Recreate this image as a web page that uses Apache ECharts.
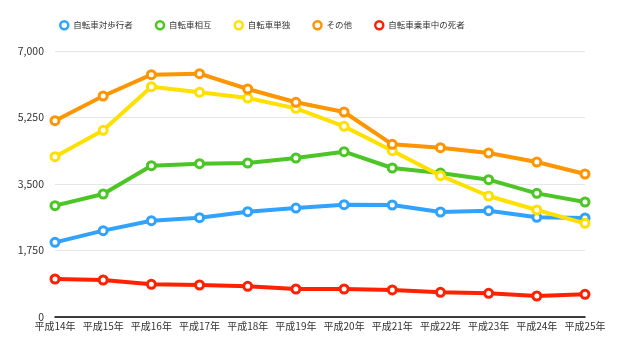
<!DOCTYPE html>
<html><head><meta charset="utf-8">
<script src="https://cdn.jsdelivr.net/npm/echarts@6/dist/echarts.min.js"></script>
<style>html,body{margin:0;padding:0;background:#fff}#c{width:634px;height:363px}</style>
</head><body><div id="c"></div>
<script>
const categories = ['平成14年','平成15年','平成16年','平成17年','平成18年','平成19年','平成20年','平成21年','平成22年','平成23年','平成24年','平成25年'];
const seriesNames = ['自転車対歩行者','自転車相互','自転車単独','その他','自転車乗車中の死者'];
const pedestrian = [1965, 2272, 2535, 2614, 2772, 2868, 2956, 2947, 2763, 2798, 2623, 2605];
const mutual = [2930, 3237, 3982, 4035, 4053, 4184, 4351, 3921, 3789, 3614, 3254, 3026];
const single = [4219, 4912, 6061, 5912, 5763, 5491, 5017, 4377, 3720, 3184, 2816, 2465];
const other = [5166, 5816, 6377, 6403, 6000, 5650, 5395, 4544, 4456, 4316, 4079, 3763];
const deaths = [1000, 974, 860, 842, 807, 737, 737, 711, 649, 623, 553, 597];
const colors = ['#32a2ff', '#4cc526', '#ffe000', '#ff9500', '#ff2200'];
const values = [pedestrian, mutual, single, other, deaths];

const font = '"Noto Sans CJK JP", "Noto Sans", sans-serif';
const chart = echarts.init(document.getElementById('c'));
chart.setOption({
  animation: false,
  textStyle: { fontFamily: font },
  legend: {
    top: 15, left: 54,
    itemWidth: 8, itemHeight: 8, itemGap: 22,
    textStyle: { fontSize: 8.5, color: '#333', fontFamily: font },
    data: seriesNames.map((n, i) => ({
      name: n, icon: 'circle',
      itemStyle: { color: '#fff', borderColor: colors[i], borderWidth: 2.5 }
    }))
  },
  grid: { left: 55, right: 49, top: 51, bottom: 46 },
  xAxis: {
    type: 'category', boundaryGap: false, data: categories,
    axisLine: { lineStyle: { color: '#000', width: 1.5 } },
    axisTick: { show: false },
    axisLabel: { fontSize: 10, color: '#333', margin: 4, interval: 0, fontFamily: font }
  },
  yAxis: {
    type: 'value', min: 0, max: 7000, interval: 1750,
    axisLine: { show: false }, axisTick: { show: false },
    splitLine: { lineStyle: { color: '#e6e6e6' } },
    axisLabel: { fontSize: 10.5, color: '#333', margin: 11, fontFamily: font,
      formatter: v => v.toLocaleString('en-US') }
  },
  series: seriesNames.map((n, i) => ({
    name: n, type: 'line', data: values[i],
    symbol: 'circle', symbolSize: 8,
    lineStyle: { color: colors[i], width: 4 },
    itemStyle: { color: '#fff', borderColor: colors[i], borderWidth: 3 },
    z: 2 + i
  }))
});
</script></body></html>
